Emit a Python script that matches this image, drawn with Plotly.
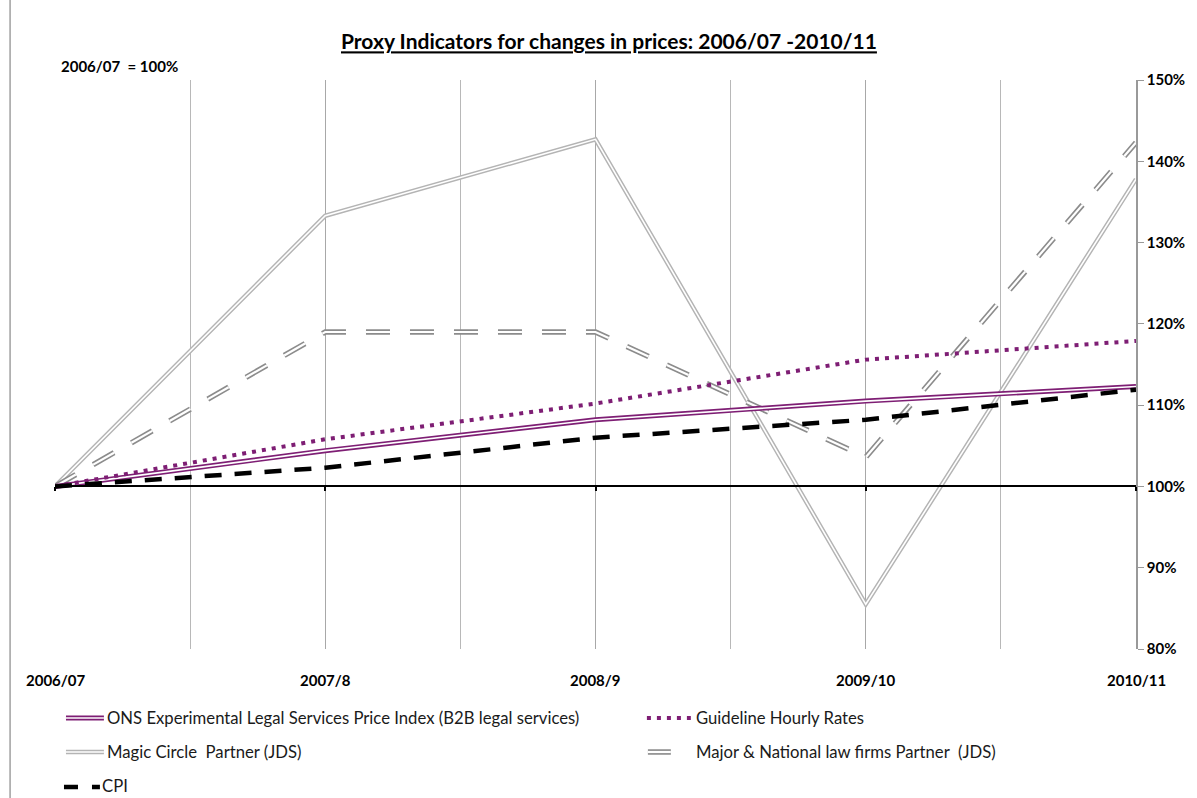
import plotly.graph_objects as go

categories = ["2006/07", "2007/8", "2008/9", "2009/10", "2010/11"]
ons = [100.0, 104.4, 108.2, 110.5, 112.3]
guideline = [100.0, 105.8, 110.2, 115.6, 117.9]
magic = [100.0, 133.3, 142.7, 85.5, 137.8]
major = [100.0, 119.0, 119.0, 103.6, 142.3]
cpi = [100.0, 102.3, 106.0, 108.2, 111.9]
y_ticks = [80, 90, 100, 110, 120, 130, 140, 150]
y_tick_text = [f"{v}%" for v in y_ticks]

x = list(range(len(categories)))
FONT = "Lato"
PURPLE = "#7E1E74"
GREY = "#B4B4B4"
DGREY = "#8C8C8C"

fig = go.Figure()

def double(name, vals, color, outer, inner, dash="solid"):
    fig.add_trace(go.Scatter(x=x, y=vals, mode="lines", name=name,
                             line=dict(color=color, width=outer, dash=dash), showlegend=False))
    fig.add_trace(go.Scatter(x=x, y=vals, mode="lines", name=name, hoverinfo="skip",
                             line=dict(color="white", width=inner, dash=dash), showlegend=False))

double("Magic Circle Partner (JDS)", magic, GREY, 4.5, 1.6)
double("Major & National law firms Partner (JDS)", major, DGREY, 5.5, 2.2, dash="24px,20px")
double("ONS Experimental Legal Services Price Index (B2B legal services)", ons, PURPLE, 5, 1.6)
fig.add_trace(go.Scatter(x=x, y=guideline, mode="lines", name="Guideline Hourly Rates",
                         line=dict(color=PURPLE, width=4, dash="4px,6px"), showlegend=False))
fig.add_trace(go.Scatter(x=x, y=cpi, mode="lines", name="CPI",
                         line=dict(color="black", width=4.5, dash="17px,13px"), showlegend=False))

W, H = 1197, 798
L, R, T, B = 55, 1138, 80, 649


def px(v):
    return (v - L) / (R - L)


def py(v):
    return (B - v) / (B - T)


fig.update_layout(
    width=W, height=H,
    margin=dict(l=L, r=W - R, t=T, b=H - B, pad=0),
    paper_bgcolor="white", plot_bgcolor="white",
    showlegend=False,
    font=dict(family=FONT, color="#1a1a1a"),
    title=dict(text="<b><u>Proxy Indicators for changes in prices: 2006/07 -2010/11</u></b>",
               x=px(610), xref="paper", xanchor="center", y=1 - 42 / H, yanchor="middle",
               font=dict(size=21, family=FONT, color="black")),
    xaxis=dict(range=[0, len(categories) - 1], tickvals=x, showticklabels=False,
               anchor="free", position=(100 - 80) / 70,
               showline=True, linecolor="black", linewidth=2,
               ticks="outside", ticklen=4, tickcolor="black", tickwidth=2,
               showgrid=True, gridcolor="#A8A8A8", gridwidth=1,
               minor=dict(dtick=0.5, tick0=0, showgrid=True, gridcolor="#B8B8B8", gridwidth=1),
               zeroline=False),
    yaxis=dict(range=[80, 150], tickvals=y_ticks, ticktext=y_tick_text, side="right",
               showline=True, linecolor="#999999", linewidth=1.5,
               ticks="outside", ticklen=6, tickcolor="#999999",
               showgrid=False, zeroline=False,
               tickfont=dict(size=15, family=FONT, color="black", weight="bold")),
)

# x category labels
for i, c in enumerate(categories):
    fig.add_annotation(x=i, xref="x", y=py(680), yref="paper", text="<b>" + c + "</b>",
                       showarrow=False, xanchor="center", yanchor="middle",
                       font=dict(size=15, family=FONT, color="black"))

fig.add_annotation(x=px(59), xref="paper", y=py(66), yref="paper", text="<b>2006/07  = 100%</b>",
                   showarrow=False, xanchor="left", yanchor="middle",
                   font=dict(size=15, family=FONT, color="black"))

# chart border line on the left
fig.add_shape(type="line", xref="paper", yref="paper", x0=px(10), x1=px(10), y0=py(800), y1=py(0),
              line=dict(color="#A0A0A0", width=1.5))

# custom legend
def leg_line(x0, x1, yy, color, width, dash="solid"):
    fig.add_shape(type="line", xref="paper", yref="paper", x0=px(x0), x1=px(x1), y0=py(yy), y1=py(yy),
                  line=dict(color=color, width=width, dash=dash))


def leg_text(x0, yy, text):
    fig.add_annotation(x=px(x0), xref="paper", y=py(yy), yref="paper", text=text, showarrow=False,
                       xanchor="left", yanchor="middle", font=dict(size=16.7, family=FONT, color="#1a1a1a"))

leg_line(66, 104, 718, PURPLE, 5)
leg_line(66, 104, 718, "white", 1.6)
leg_text(105, 718, "ONS Experimental Legal Services Price Index (B2B legal services)")

leg_line(66, 104, 752, GREY, 4.5)
leg_line(66, 104, 752, "white", 1.6)
leg_text(105, 752, "Magic Circle  Partner (JDS)")

leg_line(64, 100, 787, "black", 4.5, dash="14px,14px")
leg_text(100, 786, "CPI")

leg_line(648, 692, 718, PURPLE, 4, dash="4px,6px")
leg_text(695, 718, "Guideline Hourly Rates")

leg_line(649, 672, 752, DGREY, 5.5)
leg_line(649, 672, 752, "white", 2.2)
leg_text(695, 752, "Major & National law firms Partner  (JDS)")

fig.write_html("out.html", config={"displayModeBar": False},
               post_script="document.body.style.margin='0';document.body.style.overflow='hidden';")
